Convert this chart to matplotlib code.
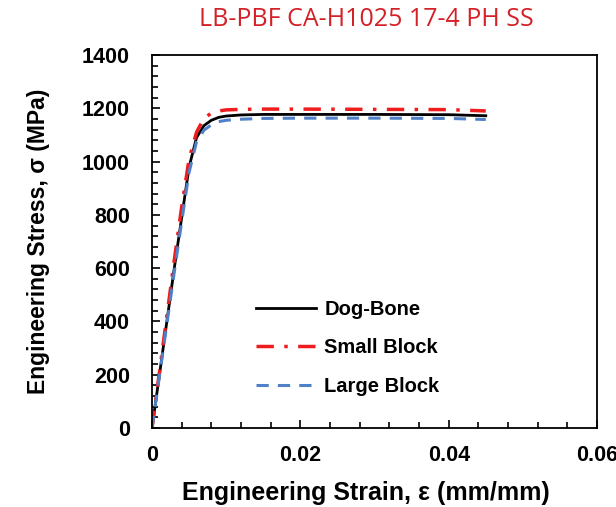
import matplotlib.pyplot as plt
from matplotlib.ticker import MultipleLocator

plt.rcParams['font.family'] = ['Liberation Sans', 'DejaVu Sans']

strain = [0, 0.001, 0.002, 0.003, 0.004, 0.005, 0.006, 0.007, 0.008,
          0.009, 0.010, 0.012, 0.015, 0.02, 0.03, 0.04, 0.045]
dog_bone = [0, 200, 400, 600, 790, 980, 1090, 1135, 1155, 1166, 1171,
            1175, 1177, 1177, 1177, 1176, 1172]
small_block = [0, 210, 420, 630, 830, 1010, 1110, 1162, 1182, 1190, 1194,
               1196, 1197, 1197, 1196, 1195, 1190]
large_block = [0, 195, 390, 585, 775, 960, 1075, 1118, 1138, 1150, 1155,
               1159, 1162, 1163, 1163, 1162, 1158]

fig = plt.figure(figsize=(6.16, 5.07), dpi=100)
ax = fig.add_axes([0.2468, 0.1558, 0.7224, 0.7357])

ax.plot(strain, dog_bone, color='black', lw=2, label='Dog-Bone')
ax.plot(strain, small_block, color='#ee1c1c', lw=2.5, ls=(0, (5, 3, 1, 3)), label='Small Block')
ax.plot(strain, large_block, color='#4f81c8', lw=2.2, ls=(0, (4, 3)), label='Large Block')

ax.set_xlim(0, 0.06)
ax.set_ylim(0, 1400)
ax.xaxis.set_minor_locator(MultipleLocator(0.004))
ax.yaxis.set_major_locator(MultipleLocator(200))
ax.yaxis.set_minor_locator(MultipleLocator(40))
ax.set_xticks([0, 0.02, 0.04, 0.06])
ax.set_xticklabels(['0', '0.02', '0.04', '0.06'])
ax.tick_params(which='both', direction='in', top=False, right=False, width=1.2)
ax.tick_params(which='major', length=6, labelsize=15.5)
ax.tick_params(axis='x', which='major', pad=12)
ax.tick_params(axis='y', which='major', pad=16)
ax.tick_params(which='minor', length=4)
for lab in ax.get_xticklabels() + ax.get_yticklabels():
    lab.set_fontweight('bold')
for s in ax.spines.values():
    s.set_linewidth(1.3)

ax.set_xlabel('Engineering Strain, ε (mm/mm)', fontsize=18, fontweight='bold')
ax.set_ylabel('Engineering Stress, σ (MPa)', fontsize=16.5, fontweight='bold')
ax.xaxis.set_label_coords(0.48, -0.142)
ax.yaxis.set_label_coords(-0.23, 0.5)

fig.text(0.595, 0.962, 'LB-PBF CA-H1025 17-4 PH SS', color='#d42027', fontsize=18,
         family=['Open Sans', 'DejaVu Sans'], ha='center', va='center')

leg = ax.legend(loc='center left', bbox_to_anchor=(0.233, 0.215), frameon=False,
                borderaxespad=0, borderpad=0, handlelength=3.0, handletextpad=0.4,
                labelspacing=0.97, fontsize=14.5)
for t in leg.get_texts():
    t.set_fontweight('bold')

fig.savefig('out.png', dpi=100)
